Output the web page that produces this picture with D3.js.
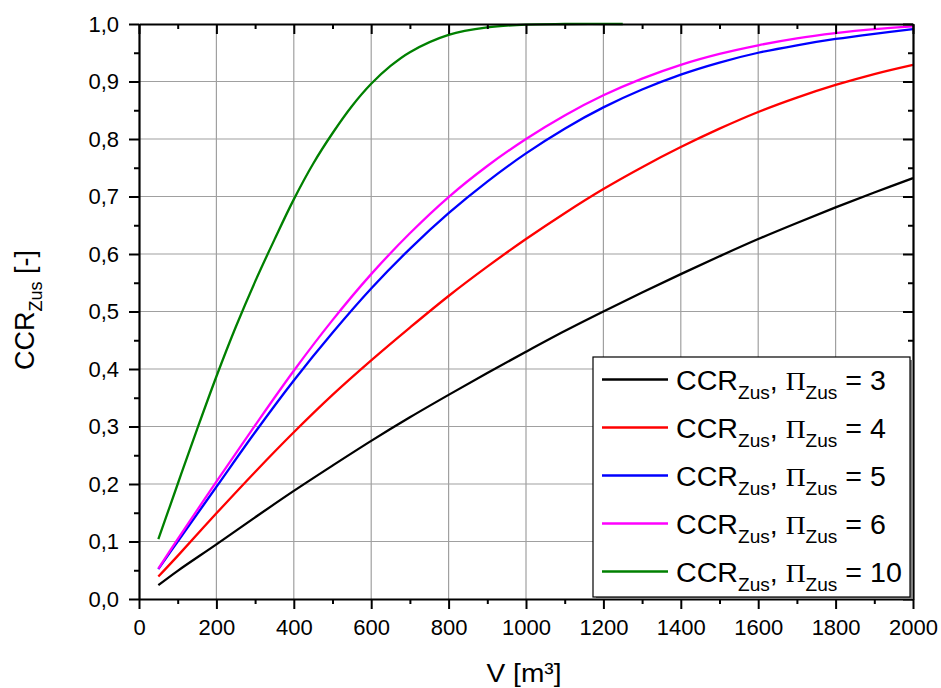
<!DOCTYPE html>
<html><head><meta charset="utf-8">
<script src="https://cdn.jsdelivr.net/npm/d3@7"></script>
<style>body{margin:0;background:#fff}svg{display:block}text{font-family:Arial,"Liberation Sans",sans-serif}</style>
</head><body>
<script>
const V = [50,100,200,300,400,500,600,700,800,900,1000,1100,1200,1300,1400,1500,1600,1700,1800,1900,2000];
const ccr3 = [0.024,0.049,0.095,0.142,0.188,0.232,0.275,0.316,0.355,0.393,0.430,0.466,0.500,0.533,0.565,0.596,0.626,0.654,0.681,0.707,0.732];
const ccr4 = [0.039,0.075,0.149,0.221,0.290,0.355,0.415,0.472,0.527,0.578,0.626,0.671,0.713,0.751,0.786,0.818,0.847,0.872,0.894,0.913,0.929];
const ccr5 = [0.052,0.100,0.195,0.290,0.380,0.463,0.540,0.609,0.671,0.726,0.775,0.818,0.855,0.886,0.912,0.933,0.950,0.963,0.974,0.983,0.991];
const ccr6 = [0.053,0.104,0.204,0.302,0.397,0.485,0.565,0.636,0.699,0.753,0.800,0.841,0.876,0.905,0.929,0.948,0.963,0.975,0.984,0.991,0.996];
const V10 = [50,100,150,200,250,300,350,400,450,500,550,600,650,700,800,900,1000,1100,1250];
const ccr10 = [0.104,0.200,0.295,0.387,0.473,0.552,0.625,0.695,0.757,0.810,0.857,0.896,0.927,0.951,0.981,0.994,0.999,1.0,1.0];
const piValues = ["3","4","5","6","10"];
const colors = ["#000000","#ff0000","#0000ff","#ff00ff","#008000"];
const xTicks = [0,200,400,600,800,1000,1200,1400,1600,1800,2000];
const yTicks = [0,0.1,0.2,0.3,0.4,0.5,0.6,0.7,0.8,0.9,1.0];

const series = [
  {x:V, y:ccr3}, {x:V, y:ccr4}, {x:V, y:ccr5}, {x:V, y:ccr6}, {x:V10, y:ccr10}
];

const W=941,H=688;
const L=139,R=913,T=24,B=599;
const svg=d3.select("body").append("svg").attr("width",W).attr("height",H);
const x=d3.scaleLinear().domain([0,2000]).range([L,R]);
const y=d3.scaleLinear().domain([0,1]).range([B,T]);
const fmtY=d=>d3.format(".1f")(d).replace(".",",");

// grid
const g=svg.append("g");
g.selectAll(".gx").data(xTicks.slice(1,-1)).join("line")
 .attr("x1",d=>x(d)).attr("x2",d=>x(d)).attr("y1",T).attr("y2",B)
 .attr("stroke","#a0a0a0").attr("stroke-width",1.2);
g.selectAll(".gy").data(yTicks.slice(1,-1)).join("line")
 .attr("x1",L).attr("x2",R).attr("y1",d=>y(d)).attr("y2",d=>y(d))
 .attr("stroke","#a0a0a0").attr("stroke-width",1.2);

// curves
const line=d3.line().curve(d3.curveCatmullRom.alpha(0.5));
series.forEach((s,i)=>{
  svg.append("path").datum(s.x.map((v,j)=>[x(v),y(s.y[j])]))
   .attr("d",line).attr("fill","none").attr("stroke",colors[i]).attr("stroke-width",2.3);
});

// axes
const xMinor=d3.range(100,2000,200), yMinor=d3.range(0.05,1,0.1);
function axis(gen, transform, ticks, minor, fmt, inner, pad){
  const a=svg.append("g").attr("transform",transform)
   .call(gen.tickValues(ticks).tickSize(inner?-10:10).tickSizeOuter(0).tickPadding(pad).tickFormat(fmt));
  a.select(".domain").attr("stroke-width",2.2);
  a.selectAll(".tick line").attr("stroke-width",2);
  a.selectAll("text").attr("font-size",22).attr("fill","#000");
  svg.append("g").attr("transform",transform)
   .call(gen.tickValues(minor).tickSize(inner?-5:5).tickFormat(""))
   .call(s=>{s.select(".domain").remove();s.selectAll(".tick line").attr("stroke-width",2);});
  return a;
}
axis(d3.axisBottom(x),`translate(0,${B})`,xTicks,xMinor,d3.format("d"),false,10);
axis(d3.axisLeft(y),`translate(${L},0)`,yTicks,yMinor,fmtY,false,10);
axis(d3.axisTop(x),`translate(0,${T})`,xTicks,xMinor,"",true,8);
axis(d3.axisRight(y),`translate(${R},0)`,yTicks,yMinor,"",true,8);
svg.selectAll("g text").filter(function(){return this.textContent==="";}).remove();

// axis titles
svg.append("text").attr("transform",`translate(524,681.5) scale(1.06,1)`).attr("text-anchor","middle")
 .attr("font-size",26.5).text("V [m³]");
const yt=svg.append("text").attr("transform",`translate(34,310) rotate(-90)`)
 .attr("text-anchor","middle").attr("font-size",27);
yt.append("tspan").text("CCR");
yt.append("tspan").attr("font-size",18).attr("dy",8).text("Zus");
yt.append("tspan").attr("dy",-8).text(" [-]");

// legend
const lg=svg.append("g");
lg.append("rect").attr("x",596).attr("y",360).attr("width",317).attr("height",239).attr("fill","#808080");
lg.append("rect").attr("x",593).attr("y",357).attr("width",317).attr("height",240)
 .attr("fill","#fff").attr("stroke","#000").attr("stroke-width",1.2);
piValues.forEach((p,i)=>{
  const cy=379.5+i*48;
  lg.append("line").attr("x1",602).attr("x2",668).attr("y1",cy).attr("y2",cy)
   .attr("stroke",colors[i]).attr("stroke-width",2.3);
  const t=lg.append("text").attr("transform",`translate(676,${cy+10.5}) scale(1.06,1)`).attr("font-size",27);
  t.append("tspan").text("CCR");
  t.append("tspan").attr("font-size",18).attr("dy",9).text("Zus");
  t.append("tspan").attr("dy",-9).text(", ");
  t.append("tspan").attr("font-family","'Liberation Serif','Times New Roman',serif").attr("font-size",26).text("Π");
  t.append("tspan").attr("font-size",18).attr("dy",9).text("Zus");
  t.append("tspan").attr("dy",-9).text(" = "+p);
});
</script>
</body></html>
